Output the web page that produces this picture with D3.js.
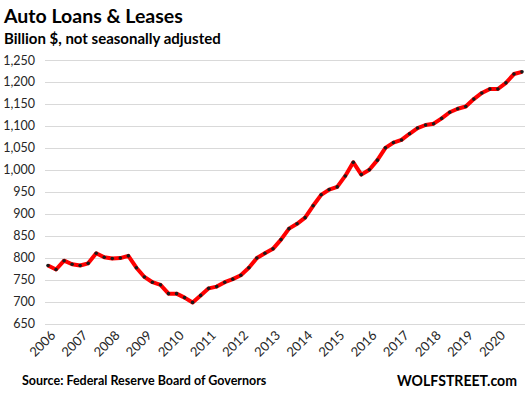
<!DOCTYPE html>
<html>
<head>
<meta charset="utf-8">
<script src="https://cdn.jsdelivr.net/npm/d3@7"></script>
<style>
  body { margin: 0; background: #fff; }
  svg { display: block; font-family: Lato, "Open Sans", sans-serif; }
</style>
</head>
<body>
<script>
// quarterly values, 2006 Q1 .. 2020 Q4 (billion $)
const years = [2006, 2007, 2008, 2009, 2010, 2011, 2012, 2013, 2014, 2015, 2016, 2017, 2018, 2019, 2020];
const loans = [
  782, 773, 793, 785, 782, 787, 810, 801, 798, 799, 804, 777,
  756, 744, 738, 718, 718, 709, 698, 714, 730, 734, 744, 751,
  760, 777, 799, 810, 820, 841, 866, 877, 891, 918, 943, 955,
  961, 986, 1017, 989, 1000, 1022, 1050, 1062, 1068, 1082, 1095, 1102,
  1105, 1117, 1131, 1139, 1144, 1161, 1175, 1184, 1184, 1198, 1218, 1223
];
const yTicks = [650, 700, 750, 800, 850, 900, 950, 1000, 1050, 1100, 1150, 1200, 1250];

const width = 527, height = 398;

const svg = d3.select("body").append("svg")
    .attr("width", width)
    .attr("height", height);

const x = d3.scaleLinear()
    .domain([0, loans.length - 1])
    .range([48, 522]);

const y = d3.scaleLinear()
    .domain([650, 1250])
    .range([323.5, 60]);

// gridlines
svg.append("g")
    .selectAll("line")
    .data(yTicks)
    .join("line")
    .attr("x1", 45)
    .attr("x2", 525)
    .attr("y1", d => Math.round(y(d)) + 0.5)
    .attr("y2", d => Math.round(y(d)) + 0.5)
    .attr("stroke", "#d9d9d9")
    .attr("stroke-width", 1);

// y labels
svg.append("g")
    .selectAll("text")
    .data(yTicks)
    .join("text")
    .attr("x", 35)
    .attr("y", d => y(d))
    .attr("dy", "0.36em")
    .attr("text-anchor", "end")
    .attr("font-size", 12.5)
    .attr("fill", "#262626")
    .text(d => d3.format(",")(d));

// x labels, one per year at first quarter
svg.append("g")
    .selectAll("text")
    .data(years)
    .join("text")
    .attr("transform", (d, i) => `translate(${x(i * 4) + 5},${333}) rotate(-45)`)
    .attr("text-anchor", "end")
    .attr("dy", "0.35em")
    .attr("font-size", 13)
    .attr("fill", "#262626")
    .text(d => d);

// the line
const line = d3.line()
    .x((d, i) => x(i))
    .y(d => y(d));

svg.append("path")
    .datum(loans)
    .attr("d", line)
    .attr("fill", "none")
    .attr("stroke", "#ff0000")
    .attr("stroke-width", 4)
    .attr("stroke-linejoin", "round");

svg.append("g")
    .selectAll("circle")
    .data(loans)
    .join("circle")
    .attr("cx", (d, i) => x(i))
    .attr("cy", d => y(d))
    .attr("r", 1.8)
    .attr("fill", "#1a1a1a");

// titles
svg.append("text")
    .attr("x", 4)
    .attr("y", 23)
    .attr("font-size", 19.5)
    .attr("font-weight", "bold")
    .attr("fill", "#000")
    .text("Auto Loans & Leases");

svg.append("text")
    .attr("x", 4)
    .attr("y", 44)
    .attr("font-size", 15)
    .attr("font-weight", "bold")
    .attr("fill", "#000")
    .text("Billion $, not seasonally adjusted");

svg.append("text")
    .attr("x", 22)
    .attr("y", 385)
    .attr("font-size", 12.5)
    .attr("font-weight", "bold")
    .attr("fill", "#000")
    .text("Source: Federal Reserve Board of Governors");

svg.append("text")
    .attr("x", 397)
    .attr("y", 386)
    .attr("font-size", 15)
    .attr("font-weight", "bold")
    .attr("textLength", 120)
    .attr("lengthAdjust", "spacingAndGlyphs")
    .attr("fill", "#000")
    .text("WOLFSTREET.com");
</script>
</body>
</html>
